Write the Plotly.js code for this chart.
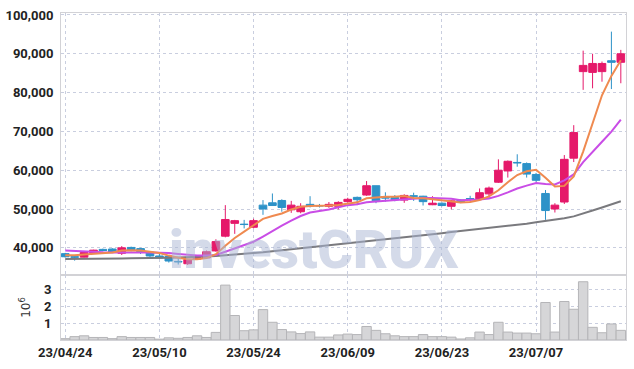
<!DOCTYPE html>
<html>
<head>
<meta charset="utf-8">
<script src="https://cdn.plot.ly/plotly-3.0.1.min.js"></script>
<style>html,body{margin:0;padding:0;background:#fff;}#chart{width:634px;height:369px;}</style>
</head>
<body>
<div id="chart"></div>
<script>
var dates = ["23/04/24","23/04/25","23/04/26","23/04/27","23/04/28","23/05/02","23/05/03","23/05/04","23/05/08","23/05/09",
"23/05/10","23/05/11","23/05/12","23/05/15","23/05/16","23/05/17","23/05/18","23/05/19","23/05/22","23/05/23",
"23/05/24","23/05/25","23/05/26","23/05/30","23/05/31","23/06/01","23/06/02","23/06/05","23/06/07","23/06/08",
"23/06/09","23/06/12","23/06/13","23/06/14","23/06/15","23/06/16","23/06/19","23/06/20","23/06/21","23/06/22",
"23/06/23","23/06/26","23/06/27","23/06/28","23/06/29","23/06/30","23/07/03","23/07/04","23/07/05","23/07/06",
"23/07/07","23/07/10","23/07/11","23/07/12","23/07/13","23/07/14","23/07/17","23/07/18","23/07/19","23/07/20"];

var openP = [38500,37700,37600,38600,39600,39700,38600,40100,39800,38900,
37900,37800,36500,35900,37100,37400,39200,43000,46300,46100,
45300,51000,51600,52200,49800,49300,51200,50900,50700,50700,
51900,53000,53600,56000,53200,53000,52300,53400,53300,51100,
51500,50700,52300,52700,52600,53900,56900,59800,62000,61700,
58900,54000,50000,51800,63100,85400,85200,85400,88200,87800];
var highP = [38700,38100,39200,39500,39800,39900,40450,40300,40000,39000,
38400,37900,37300,37200,38100,39300,42200,51000,47200,47200,
47500,52300,54000,52500,52100,51500,53300,51300,51800,52000,
52900,53200,57200,56000,54300,53600,53800,54200,53400,53300,
51700,52300,52500,53400,55300,55800,62800,62500,64100,62000,
59300,54900,51500,63900,71600,90800,90000,88000,95700,91000];
var lowP = [37500,36700,37500,38500,39100,38900,38150,39100,38400,37400,
37200,36200,35700,35600,36900,37200,39000,42700,43600,45000,
45000,48500,50800,49300,49000,48900,50400,50400,50300,49900,
51600,51000,53400,51500,51900,52000,51600,52100,50900,51000,
50700,49900,51500,51900,52400,52600,56700,58100,60900,58100,
57000,47200,49100,51300,62100,80700,81100,82800,80900,82400];
var closeP = [37700,37600,38800,39400,39300,39000,40000,39300,38800,37900,
37400,36600,36400,37000,37800,39000,41600,47300,47000,46000,
47000,50000,50900,50400,51000,50700,50800,50800,51200,51700,
52500,52400,56000,52100,52800,52400,53500,53300,51900,51500,
50900,52100,51900,52600,54200,55400,60000,62300,61900,59000,
57400,49600,51000,62800,69700,87000,87500,87500,87800,90000];

var ma5 = [38100,38100,38300,38500,38560,38820,39300,39400,39280,39000,
38680,38000,37420,37060,37040,37360,38360,40540,42540,44180,
45780,47460,48180,48860,49860,50600,50760,50740,50900,51040,
51400,51720,52760,52940,53160,53140,53360,52820,52780,52520,
52220,51940,51660,51800,52340,53240,54820,56900,58760,59720,
60120,58040,55780,55960,58400,64800,72200,79300,84300,88300];
var ma10 = [39300,39150,39000,38900,38850,38800,38850,38850,38800,38780,
38750,38650,38410,38170,38020,38020,38180,38980,39800,40610,
41570,42910,44360,45700,47020,48190,49110,49460,49880,50450,
51000,51240,51750,51920,52100,52270,52540,52790,52860,52840,
52680,52650,52240,52290,52430,52730,53380,54280,55280,56030,
56680,56430,56340,57360,58910,62070,64820,67340,69930,73030];
var ma60 = [37100,37100,37150,37150,37200,37200,37250,37300,37300,37350,
37400,37450,37500,37550,37650,37750,37900,38050,38250,38450,
38650,38850,39100,39350,39600,39850,40100,40350,40600,40850,
41100,41350,41600,41900,42150,42400,42700,43000,43250,43500,
43750,44050,44300,44550,44800,45050,45300,45550,45800,46200,
46600,46900,47200,47600,48100,48800,49600,50400,51200,52000];

var volume = [0.08,0.2,0.25,0.15,0.15,0.08,0.2,0.15,0.15,0.15,
0.05,0.13,0.1,0.15,0.25,0.15,0.45,3.25,1.45,0.55,
0.6,1.8,1.05,0.62,0.48,0.38,0.48,0.17,0.17,0.3,
0.35,0.32,0.8,0.57,0.37,0.25,0.2,0.2,0.32,0.2,
0.2,0.17,0.06,0.13,0.47,0.32,1.05,0.47,0.41,0.41,
0.37,2.22,0.47,2.28,1.82,3.45,0.75,0.43,0.95,0.57];

var tickLabels = ["23/04/24","23/05/10","23/05/24","23/06/09","23/06/23","23/07/07"];
var priceTicks = [40000,50000,60000,70000,80000,90000,100000];
var volTicks = [1,2,3];

var UP = '#E5196A', DOWN = '#2D92C8';
var tickFont = {family:'Roboto, sans-serif', size:13, color:'#222', weight:'bold'};
var gridC = '#c9cedf';

var traces = [
  {type:'bar', x:dates, y:volume, xaxis:'x', yaxis:'y2',
   marker:{color:'#d6d6d8', line:{color:'#b5b5b8', width:1}}, hoverinfo:'skip', showlegend:false},
  {type:'scatter', mode:'lines', x:dates, y:ma60, line:{color:'#7a7a7e', width:2}, showlegend:false, hoverinfo:'skip'},
  {type:'scatter', mode:'lines', x:dates, y:ma10, line:{color:'#C94DE6', width:2}, showlegend:false, hoverinfo:'skip'},
  {type:'scatter', mode:'lines', x:dates, y:ma5, line:{color:'#EF8A50', width:2}, showlegend:false, hoverinfo:'skip'},
  {type:'candlestick', x:dates, open:openP, high:highP, low:lowP, close:closeP,
   increasing:{line:{color:UP, width:1}, fillcolor:UP},
   decreasing:{line:{color:DOWN, width:1}, fillcolor:DOWN},
   whiskerwidth:0, showlegend:false, hoverinfo:'skip'}
];

var layout = {
  width:634, height:369,
  margin:{l:61, r:8, t:13, b:29},
  paper_bgcolor:'#fff', plot_bgcolor:'#fff',
  showlegend:false,
  bargap:0,
  boxgap:0.1, boxgroupgap:0.1,
  xaxis:{type:'category', anchor:'y2', range:[-0.45,59.55], tickmode:'array', tickvals:tickLabels, ticktext:tickLabels,
    showgrid:true, gridcolor:gridC, griddash:'dot', gridwidth:1,
    showline:true, linecolor:'#d2d2d6', linewidth:1, mirror:'all', ticks:'', tickfont:tickFont,
    rangeslider:{visible:false}, fixedrange:true, zeroline:false},
  yaxis:{domain:[0.1988,1], range:[33000,100500], tickmode:'array', tickvals:priceTicks, tickformat:',d',
    showgrid:true, gridcolor:gridC, griddash:'dot', showline:true, linecolor:'#d2d2d6', mirror:true,
    ticks:'', tickfont:tickFont, zeroline:false, ticklabelstandoff:4},
  yaxis2:{domain:[0,0.1988], range:[0,3.85], tickmode:'array', tickvals:volTicks,
    showgrid:true, gridcolor:gridC, griddash:'dot', showline:true, linecolor:'#d2d2d6', mirror:true,
    ticks:'', tickfont:tickFont, zeroline:false, ticklabelstandoff:6,
    title:{text:'10<sup>6</sup>', font:{family:'"DejaVu Sans", sans-serif', size:12, color:'#333'}, standoff:10}},
  annotations:[
    {text:'investCRUX', xref:'paper', yref:'paper', x:0.447, y:0.1988, xanchor:'center', yanchor:'bottom', yshift:-8,
     showarrow:false, font:{family:'Roboto, sans-serif', size:54, color:'rgba(170,182,212,0.5)', weight:900}}
  ]
};

Plotly.newPlot('chart', traces, layout, {staticPlot:true, displayModeBar:false});
</script>
</body>
</html>
